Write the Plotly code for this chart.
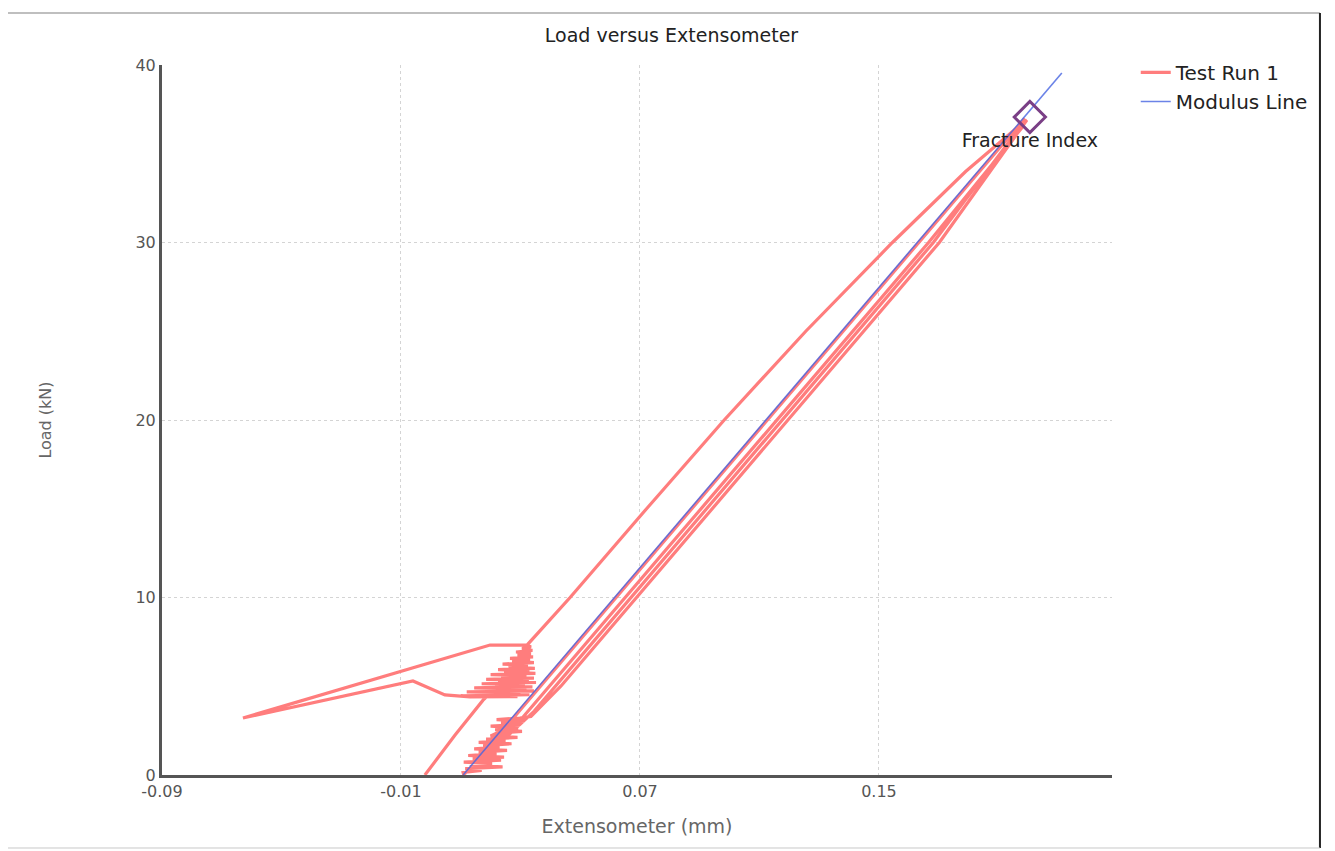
import plotly.graph_objects as go

# ---- Data ----
# Test Run 1: extensometer (mm) and load (kN), in drawing order
run_ext = [
    # initial loading
    -0.0020, 0.0081, 0.0174, 0.0260, 0.0322,
    # excursion to the left
    0.0198, -0.0629, -0.0060, 0.0047, 0.0131,
    # noisy region at 4-7 kN
    0.0290, 0.0100, 0.0330, 0.0175, 0.0300, 0.0120, 0.0345, 0.0200, 0.0320, 0.0145,
    0.0340, 0.0215, 0.0315, 0.0170, 0.0352, 0.0225, 0.0328, 0.0185, 0.0345, 0.0235,
    0.0320, 0.0200, 0.0350, 0.0245, 0.0330, 0.0225, 0.0348, 0.0260, 0.0325, 0.0240,
    0.0345, 0.0272, 0.0332, 0.0265, 0.0342, 0.0290, 0.0335, 0.0285, 0.0340, 0.0305,
    0.0335, 0.0322,
    # upper strand to the top
    0.0466, 0.0722, 0.0982, 0.1255, 0.1545, 0.1790, 0.1985,
    # unloading 1
    0.1995, 0.1702, 0.1195, 0.0689, 0.0435, 0.0335,
    0.0298, 0.0220, 0.0312, 0.0235, 0.0300, 0.0200, 0.0292, 0.0215, 0.0305, 0.0225,
    0.0260,
    # reloading 1
    0.0346, 0.0417, 0.0671, 0.1177, 0.1682, 0.1990,
    # unloading 2
    0.1980, 0.1666, 0.1159, 0.0653, 0.0399, 0.0290,
    0.0200, 0.0290, 0.0185, 0.0250, 0.0160, 0.0270, 0.0175, 0.0230, 0.0145, 0.0255,
    0.0160, 0.0220, 0.0125, 0.0245, 0.0140, 0.0235, 0.0110, 0.0205, 0.0130, 0.0240,
    0.0115, 0.0170, 0.0108, 0.0110,
    # reloading 2 to fracture
    0.0131, 0.0620, 0.1126, 0.1633, 0.1988,
]
run_load = [
    0.00, 2.25, 4.20, 5.60, 7.32,
    7.32, 3.21, 5.30, 4.51, 4.40,
    4.42, 4.46, 4.52, 4.58, 4.63, 4.68, 4.74, 4.80, 4.85, 4.91,
    4.97, 5.03, 5.08, 5.14, 5.21, 5.27, 5.33, 5.39, 5.46, 5.52,
    5.59, 5.66, 5.73, 5.80, 5.87, 5.94, 6.01, 6.09, 6.17, 6.25,
    6.33, 6.41, 6.49, 6.57, 6.66, 6.75, 6.84, 6.93, 7.02, 7.12,
    7.22, 7.32,
    10.0, 15.0, 20.0, 25.0, 30.0, 34.0, 36.8,
    36.9, 30.0, 20.0, 10.0, 5.0, 3.30,
    3.21, 3.12, 3.03, 2.93, 2.84, 2.75, 2.66, 2.56, 2.46, 2.35,
    2.25,
    3.60, 5.0, 10.0, 20.0, 30.0, 36.9,
    36.5, 30.0, 20.0, 10.0, 5.0, 2.90,
    2.20, 2.12, 2.02, 1.93, 1.84, 1.76, 1.66, 1.57, 1.47, 1.39,
    1.29, 1.20, 1.10, 1.01, 0.92, 0.83, 0.73, 0.64, 0.55, 0.46,
    0.36, 0.26, 0.14, 0.02,
    0.35, 10.0, 20.0, 30.0, 37.0,
]

# Modulus line end points
modulus_ext = [0.0108, 0.2112]
modulus_load = [0.0, 39.55]

# Fracture index point
fracture_ext = [0.2005]
fracture_load = [37.07]
fracture_label = ["Fracture Index"]

# Axis ticks
x_ticks = [-0.09, -0.01, 0.07, 0.15]
x_tick_text = ["-0.09", "-0.01", "0.07", "0.15"]
y_ticks = [0, 10, 20, 30, 40]

FONT = "DejaVu Sans"

fig = go.Figure()

fig.add_trace(go.Scatter(
    x=run_ext, y=run_load, mode="lines", name="Test Run 1",
    line=dict(color="#ff7d7d", width=3.2),
))
fig.add_trace(go.Scatter(
    x=modulus_ext, y=modulus_load, mode="lines", name="Modulus Line",
    line=dict(color="rgba(70,100,225,0.8)", width=1.6),
))
fig.add_trace(go.Scatter(
    x=fracture_ext, y=fracture_load, mode="markers+text",
    text=fracture_label, textposition="bottom center",
    textfont=dict(family=FONT, size=19, color="#222222"),
    marker=dict(symbol="diamond-open", size=24, color="#7a3f86",
                line=dict(width=3, color="#7a3f86")),
    showlegend=False, hoverinfo="skip",
))

# scanned-page frame
frame = [
    dict(x0=-0.1653, x1=1.2189, y0=1.0732, y1=1.0732, color="#aaaaaa", w=1.5),
    dict(x0=1.2189, x1=1.2189, y0=-0.1028, y1=1.0732, color="#222222", w=2),
    dict(x0=-0.1653, x1=-0.1653, y0=-0.1028, y1=1.0732, color="#d0d0d0", w=1),
    dict(x0=-0.1653, x1=1.2189, y0=-0.1028, y1=-0.1028, color="#c8c8c8", w=1),
]
shapes = [dict(type="line", xref="paper", yref="paper", x0=f["x0"], x1=f["x1"],
               y0=f["y0"], y1=f["y1"], line=dict(color=f["color"], width=f["w"]))
          for f in frame]

fig.update_layout(
    width=1335, height=851,
    margin=dict(l=154, r=231, t=57, b=84),
    paper_bgcolor="white", plot_bgcolor="white",
    font=dict(family=FONT, color="#666666"),
    title=dict(text="Load versus Extensometer", x=0.497, xref="container",
               xanchor="center", y=1 - 27 / 851, yanchor="middle",
               font=dict(family=FONT, size=19, color="#222222")),
    legend=dict(x=1.025, y=1.017, xanchor="left", yanchor="top",
                font=dict(family=FONT, size=20, color="#222222"),
                bgcolor="rgba(0,0,0,0)", tracegroupgap=2),
    showlegend=True,
    shapes=shapes,
)

fig.update_xaxes(
    range=[-0.09, 0.228], tickvals=x_ticks, ticktext=x_tick_text,
    showgrid=True, gridcolor="#d4d4d4", griddash="dot", gridwidth=1,
    showline=True, linecolor="#555555", linewidth=3, zeroline=False,
    ticks="", tickfont=dict(family=FONT, size=16, color="#555555"),
    title=dict(text="Extensometer (mm)", standoff=20,
               font=dict(family=FONT, size=19, color="#666666")),
)
fig.update_yaxes(
    range=[0, 40], tickvals=y_ticks,
    showgrid=True, gridcolor="#d4d4d4", griddash="dot", gridwidth=1,
    showline=True, linecolor="#555555", linewidth=3, zeroline=False,
    ticks="", tickfont=dict(family=FONT, size=16, color="#555555"),
    title=dict(text="Load (kN)", standoff=80,
               font=dict(family=FONT, size=16, color="#666666")),
)

fig.write_html("out.html")
